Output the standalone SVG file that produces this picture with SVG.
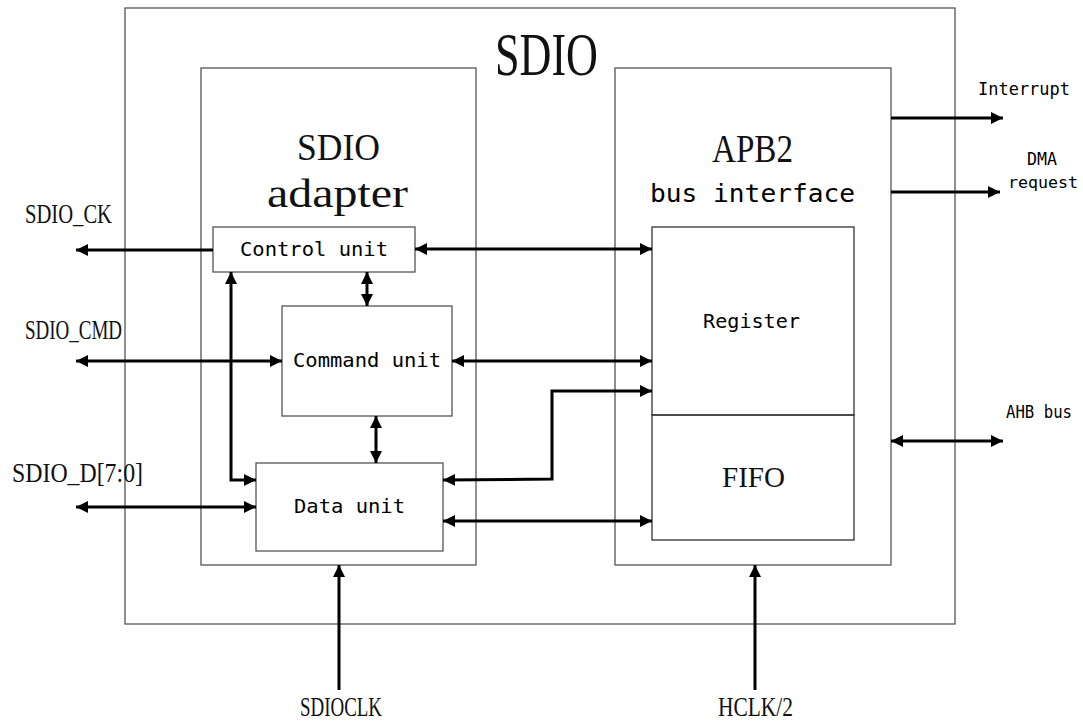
<svg xmlns="http://www.w3.org/2000/svg" width="1083" height="723" viewBox="0 0 1083 723">
<style>
.box{fill:none;stroke:#555;stroke-width:1.3}
.ser{font-family:"Liberation Serif","DejaVu Serif",serif;fill:#111}
.mono{font-family:"DejaVu Sans Mono","Liberation Mono",monospace;fill:#000}
.ar{fill:none;stroke:#000;stroke-width:3}
.e{marker-end:url(#ah)}
.b{marker-start:url(#ah);marker-end:url(#ah)}
</style>
<defs>
<marker id="ah" markerUnits="userSpaceOnUse" markerWidth="14" markerHeight="14" refX="12" refY="6" orient="auto-start-reverse" viewBox="0 0 14 14">
<path d="M0,0 L12,6 L0,12 z" fill="#000"/>
</marker>
</defs>
<rect width="1083" height="723" fill="#fff"/>
<g id="sdio">
<rect class="box" x="125" y="8" width="830" height="616"/>
<text class="ser" x="495" y="75" font-size="62" textLength="103" lengthAdjust="spacingAndGlyphs">SDIO</text>
</g>
<g id="adapter">
<rect class="box" x="201" y="68" width="275" height="497"/>
<text class="ser" x="297" y="160" font-size="38" textLength="83" lengthAdjust="spacingAndGlyphs">SDIO</text>
<text class="ser" x="267" y="207" font-size="40" textLength="141" lengthAdjust="spacingAndGlyphs">adapter</text>
</g>
<g id="apb2">
<rect class="box" x="615" y="68" width="276" height="497"/>
<text class="ser" x="712" y="162" font-size="40" textLength="81" lengthAdjust="spacingAndGlyphs">APB2</text>
<text class="mono" x="650" y="202" font-size="25" textLength="205" lengthAdjust="spacingAndGlyphs">bus interface</text>
</g>
<g id="register">
<rect x="652" y="227" width="202" height="188" fill="none" stroke="#333" stroke-width="1.3"/>
<text class="mono" x="703" y="328" font-size="20" textLength="97" lengthAdjust="spacingAndGlyphs">Register</text>
</g>
<g id="fifo">
<rect x="652" y="415" width="202" height="125" fill="none" stroke="#333" stroke-width="1.3"/>
<text class="ser" x="722" y="487" font-size="30" textLength="63" lengthAdjust="spacingAndGlyphs">FIFO</text>
</g>
<g id="control">
<rect class="box" x="213" y="227" width="202" height="45" fill="#fff"/>
<text class="mono" x="240" y="256" font-size="19" textLength="148" lengthAdjust="spacingAndGlyphs">Control unit</text>
</g>
<g id="command">
<rect class="box" x="282" y="306" width="170" height="110"/>
<text class="mono" x="293" y="367" font-size="20" textLength="148" lengthAdjust="spacingAndGlyphs">Command unit</text>
</g>
<g id="data">
<rect class="box" x="256" y="463" width="187" height="88"/>
<text class="mono" x="294" y="513" font-size="20" textLength="111" lengthAdjust="spacingAndGlyphs">Data unit</text>
</g>
<g id="labels">
<text class="ser" x="25" y="223" font-size="27" textLength="87" lengthAdjust="spacingAndGlyphs">SDIO_CK</text>
<text class="ser" x="25" y="339" font-size="27" textLength="97" lengthAdjust="spacingAndGlyphs">SDIO_CMD</text>
<text class="ser" x="12" y="482" font-size="27" textLength="131" lengthAdjust="spacingAndGlyphs">SDIO_D[7:0]</text>
<text class="ser" x="300" y="716" font-size="27" textLength="82" lengthAdjust="spacingAndGlyphs">SDIOCLK</text>
<text class="ser" x="718" y="716" font-size="27" textLength="75" lengthAdjust="spacingAndGlyphs">HCLK/2</text>
<text class="mono" x="978" y="95" font-size="17" textLength="92" lengthAdjust="spacingAndGlyphs">Interrupt</text>
<text class="mono" x="1027" y="165" font-size="17" textLength="30" lengthAdjust="spacingAndGlyphs">DMA</text>
<text class="mono" x="1008" y="188" font-size="16" textLength="70" lengthAdjust="spacingAndGlyphs">request</text>
<text class="mono" x="1006" y="418" font-size="17" textLength="66" lengthAdjust="spacingAndGlyphs">AHB bus</text>
</g>
<g id="connectors">
<path class="ar e" d="M213,250 L76,250"/>
<path class="ar b" d="M76,361 L282,361"/>
<path class="ar b" d="M76,507 L256,507"/>
<path class="ar b" d="M415,249 L652,249"/>
<path class="ar b" d="M367,272 L367,306"/>
<path class="ar b" d="M376,416 L376,463"/>
<path class="ar b" d="M231,272 L231,480 L256,480"/>
<path class="ar b" d="M452,361 L652,361"/>
<path class="ar b" d="M443,480 L552,479 L552,391 L652,391"/>
<path class="ar b" d="M443,521 L652,521"/>
<path class="ar e" d="M339,690 L339,565"/>
<path class="ar e" d="M755,690 L755,565"/>
<path class="ar e" d="M891,118 L1003,118"/>
<path class="ar e" d="M891,192 L1000,192"/>
<path class="ar b" d="M891,441 L1003,441"/>
</g>
</svg>
